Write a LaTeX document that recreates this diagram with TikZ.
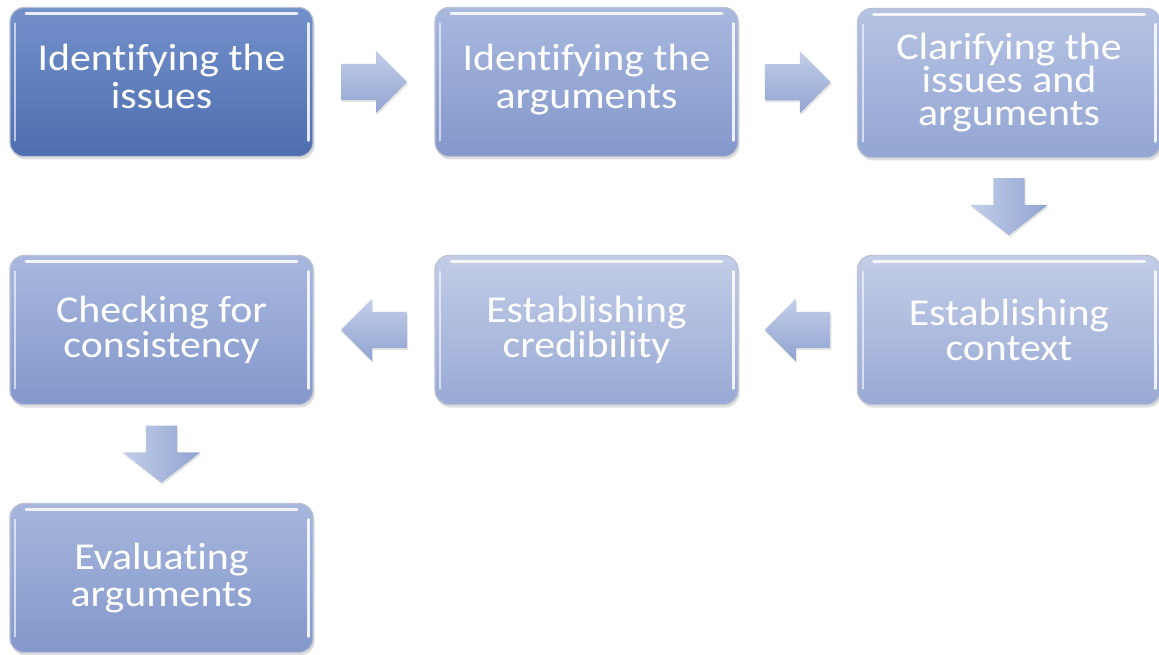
\documentclass[tikz,border=0pt]{standalone}
\usepackage{fontspec}
\setmainfont{Carlito}[FakeStretch=1.1, Ligatures=NoCommon]
\usetikzlibrary{shapes.arrows,shadows,calc}
\definecolor{bxA}{HTML}{7390CA}\definecolor{bxAb}{HTML}{4E6EB0}
\definecolor{bxB}{HTML}{A8B8DE}\definecolor{bxBb}{HTML}{8497CB}
\definecolor{bxC}{HTML}{B6C3E3}\definecolor{bxCb}{HTML}{93A5D3}
\definecolor{bxD}{HTML}{C3CDE7}\definecolor{bxDb}{HTML}{98A9D4}
\definecolor{bxE}{HTML}{A6B6DC}\definecolor{bxEb}{HTML}{8397CA}
\definecolor{arT}{HTML}{C3CEE8}\definecolor{arB}{HTML}{90A3D1}
\definecolor{edge}{HTML}{B9C1D3}
\newcommand{\sqbox}[1]{\phantom{\rule{#1}{#1}}}
\tikzset{
  box/.style={rectangle, rounded corners=14pt, minimum width=303pt, minimum height=149pt,
    align=center, text=white, inner sep=0pt, draw=edge, line width=1.2pt,
    drop shadow={shadow xshift=1.5pt, shadow yshift=-3pt, opacity=0.25},
    path picture={
      \draw[white, line width=3pt, line cap=round, opacity=0.85]
        ([xshift=16pt,yshift=-6pt]path picture bounding box.north west) --
        ([xshift=-16pt,yshift=-6pt]path picture bounding box.north east);
      \draw[white, line width=3pt, line cap=round, opacity=0.85]
        ([xshift=-5pt,yshift=-16pt]path picture bounding box.north east) --
        ([xshift=-5pt,yshift=16pt]path picture bounding box.south east);
      \draw[white, line width=2pt, line cap=round, opacity=0.6]
        ([xshift=5pt,yshift=-16pt]path picture bounding box.north west) --
        ([xshift=5pt,yshift=16pt]path picture bounding box.south west);
    }},
  txt/.style={font=\fontsize{38}{#1}\selectfont},
  harrow/.style={single arrow, inner sep=0pt, minimum height=66pt, anchor=tail,
    single arrow head extend=13pt, top color=arT, bottom color=arB, draw=none,
    drop shadow={shadow xshift=1pt, shadow yshift=-2pt, opacity=0.2}},
  varrow/.style={single arrow, inner sep=0pt, minimum height=57pt, anchor=tail,
    single arrow head extend=23pt, single arrow tip angle=104, left color=arT, right color=arB, draw=none,
    drop shadow={shadow xshift=1pt, shadow yshift=-2pt, opacity=0.2}}
}
\begin{document}
\begin{tikzpicture}[x=1pt,y=-1pt]
\useasboundingbox[fill=white] (0,0) rectangle (1159,655);
\node[box, top color=bxA, bottom color=bxAb, txt=38] (b1) at (161.5,82) {\raisebox{4pt}{\begin{tabular}{@{}c@{}}Identifying the\\issues\end{tabular}}};
\node[box, top color=bxB, bottom color=bxBb, txt=38] (b2) at (586.5,82) {\raisebox{4pt}{\begin{tabular}{@{}c@{}}Identifying the\\arguments\end{tabular}}};
\node[box, top color=bxC, bottom color=bxCb, txt=33] (b3) at (1009,83) {Clarifying the\\issues and\\arguments};
\node[box, top color=bxD, bottom color=bxDb, txt=35] (b6) at (1009,330) {Establishing\\context};
\node[box, top color=bxD, bottom color=bxDb, txt=35] (b5) at (586.5,330) {Establishing\\credibility};
\node[box, top color=bxB, bottom color=bxBb, txt=35] (b4) at (161.5,330) {Checking for\\consistency};
\node[box, top color=bxE, bottom color=bxEb, txt=37] (b7) at (161.5,578) {Evaluating\\arguments};
\node[harrow] (a12) at ($($(b1.east)!0.5!(b2.west)$)!33pt!(b1.east)$) {\sqbox{36pt}};
\node[harrow] (a23) at ($($(b2.east)!0.5!(b3.west)$)!33pt!(b2.east)$) {\sqbox{36pt}};
\node[varrow, shape border rotate=270] (a36) at ($($(b3.south)!0.5!(b6.north)$)!28.5pt!(b3.south)$) {\sqbox{31pt}};
\node[harrow, shape border rotate=180] (a65) at ($($(b6.west)!0.5!(b5.east)$)!33pt!(b6.west)$) {\sqbox{36pt}};
\node[harrow, shape border rotate=180] (a54) at ($($(b5.west)!0.5!(b4.east)$)!33pt!(b5.west)$) {\sqbox{36pt}};
\node[varrow, shape border rotate=270] (a47) at ($($(b4.south)!0.5!(b7.north)$)!28.5pt!(b4.south)$) {\sqbox{31pt}};
\end{tikzpicture}
\end{document}
